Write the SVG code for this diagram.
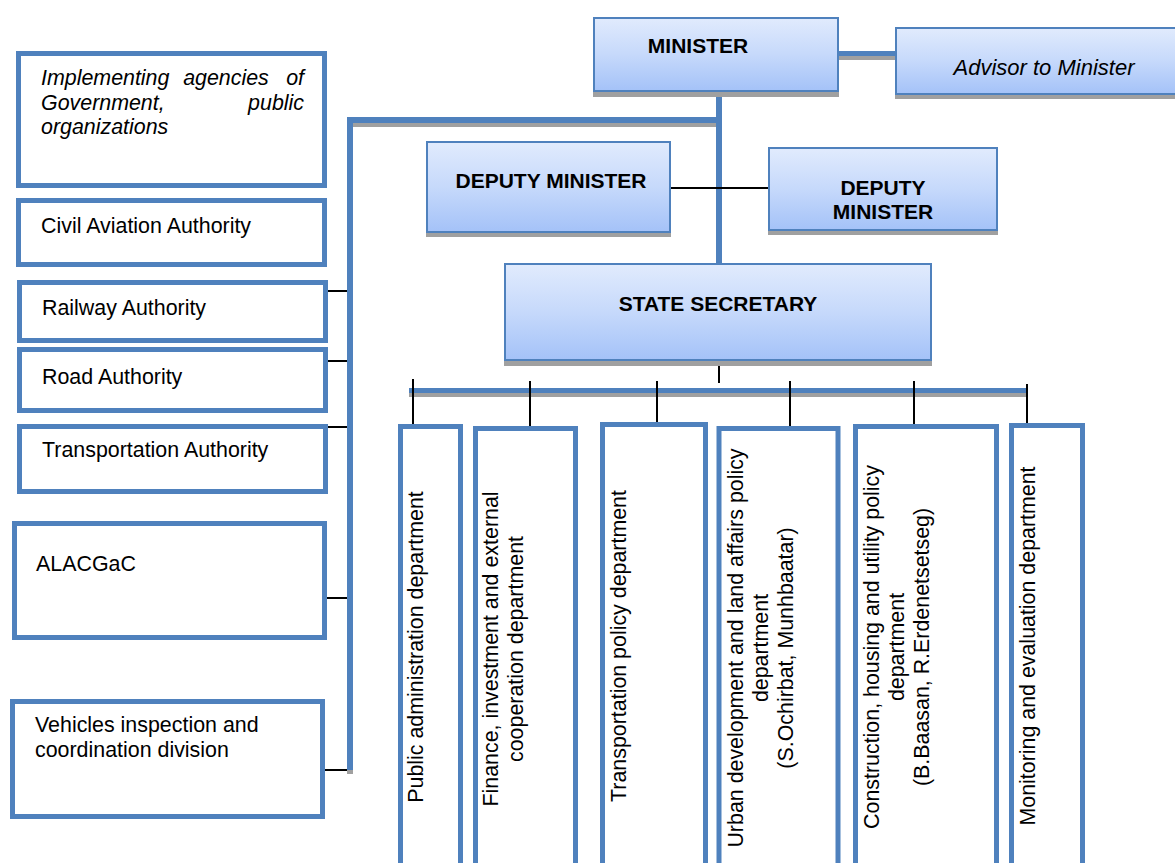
<svg xmlns="http://www.w3.org/2000/svg" width="1175" height="863" viewBox="0 0 1175 863">
  <defs>
    <linearGradient id="boxFill" x1="0" y1="0" x2="0" y2="1">
      <stop offset="0" stop-color="#e1ebfd"/>
      <stop offset="0.5" stop-color="#c6d9fb"/>
      <stop offset="1" stop-color="#a4c2f8"/>
    </linearGradient>
    <style>
      text { font-family: "Liberation Sans", Arial, sans-serif; font-size: 21.4px; fill: #000; }
      .bold { font-weight: bold; font-size: 21px; }
      .ital { font-style: italic; }
      .big { font-size: 22px; }
      .mid { text-anchor: middle; }
      .head { fill: url(#boxFill); stroke: #4f81bd; stroke-width: 2; }
      .shadow { fill: #a0a0a0; }
      .unit { fill: #fff; stroke: #4f81bd; stroke-width: 5; }
      .bar { fill: #4f81bd; }
      .thin { stroke: #000; stroke-width: 2; fill: none; }
    </style>
  </defs>
  <rect width="1175" height="863" fill="#fff"/>

  <!-- connectors -->
  <g id="connectors">
    <!-- thick bar shadows -->
    <rect class="shadow" x="839" y="56" width="56" height="4"/>
    <rect class="shadow" x="353" y="123" width="366" height="4"/>
    <rect class="shadow" x="347" y="770" width="6" height="4"/>
    <rect class="shadow" x="409" y="393" width="618" height="4"/>
    <!-- thick bars -->
    <rect class="bar" x="839" y="51" width="56" height="5"/>
    <rect class="bar" x="716" y="92" width="6" height="172"/>
    <rect class="bar" x="347" y="117" width="375" height="6"/>
    <rect class="bar" x="347" y="117" width="6" height="653"/>
    <rect class="bar" x="409" y="388" width="618" height="5"/>
    <!-- thin lines -->
    <line class="thin" x1="671" y1="188" x2="768" y2="188"/>
    <line class="thin" x1="719" y1="361" x2="719" y2="383" stroke-width="3"/>
    <line class="thin" x1="328" y1="291" x2="347" y2="291"/>
    <line class="thin" x1="328" y1="361" x2="347" y2="361"/>
    <line class="thin" x1="328" y1="427" x2="347" y2="427"/>
    <line class="thin" x1="327" y1="598" x2="347" y2="598"/>
    <line class="thin" x1="322" y1="770" x2="347" y2="770"/>
    <line class="thin" x1="413" y1="379" x2="413" y2="426"/>
    <line class="thin" x1="530" y1="381" x2="530" y2="428"/>
    <line class="thin" x1="657" y1="381" x2="657" y2="422"/>
    <line class="thin" x1="790" y1="381" x2="790" y2="428"/>
    <line class="thin" x1="914" y1="381" x2="914" y2="425" stroke-width="3"/>
    <line class="thin" x1="1027" y1="384" x2="1027" y2="424"/>
  </g>

  <!-- leadership -->
  <g id="minister">
    <rect class="shadow" x="593" y="21" width="246" height="76"/>
    <rect class="head" x="594" y="18" width="244" height="73"/>
    <text class="bold mid" x="698" y="53">MINISTER</text>
  </g>
  <g id="advisor">
    <rect class="shadow" x="895" y="31" width="290" height="68"/>
    <rect class="head" x="896" y="28" width="290" height="66"/>
    <text class="ital big mid" x="1044" y="75">Advisor to Minister</text>
  </g>
  <g id="deputy-minister-1">
    <rect class="shadow" x="426" y="146" width="245" height="91"/>
    <rect class="head" x="427" y="142" width="243" height="90"/>
    <text class="bold mid" x="551" y="188">DEPUTY MINISTER</text>
  </g>
  <g id="deputy-minister-2">
    <rect class="shadow" x="768" y="152" width="230" height="83"/>
    <rect class="head" x="769" y="148" width="228" height="82"/>
    <text class="bold mid" x="883" y="195">DEPUTY</text>
    <text class="bold mid" x="883" y="219">MINISTER</text>
  </g>
  <g id="state-secretary">
    <rect class="shadow" x="504" y="266" width="428" height="100"/>
    <rect class="head" x="505" y="264" width="426" height="96"/>
    <text class="bold mid" x="718" y="311">STATE SECRETARY</text>
  </g>

  <!-- implementing agencies -->
  <g id="implementing-agencies">
    <rect class="unit" x="18.5" y="53.5" width="306" height="132"/>
    <text class="ital" x="41" y="85">Implementing</text>
    <text class="ital mid" x="226" y="85">agencies</text>
    <text class="ital" x="304" y="85" text-anchor="end">of</text>
    <text class="ital" x="41" y="110">Government,</text>
    <text class="ital" x="304" y="110" text-anchor="end">public</text>
    <text class="ital" x="41" y="134">organizations</text>
  </g>
  <g id="civil-aviation">
    <rect class="unit" x="18.5" y="200.5" width="306" height="64"/>
    <text x="41" y="233">Civil Aviation Authority</text>
  </g>
  <g id="railway">
    <rect class="unit" x="19.5" y="282.5" width="306" height="58"/>
    <text x="42" y="315">Railway Authority</text>
  </g>
  <g id="road">
    <rect class="unit" x="19.5" y="349.5" width="306" height="61"/>
    <text x="42" y="384">Road Authority</text>
  </g>
  <g id="transportation-authority">
    <rect class="unit" x="19.5" y="426.5" width="306" height="65"/>
    <text x="42" y="457">Transportation Authority</text>
  </g>
  <g id="alacgac">
    <rect class="unit" x="14.5" y="523.5" width="310" height="114"/>
    <text x="36" y="571">ALACGaC</text>
  </g>
  <g id="vehicles-inspection">
    <rect class="unit" x="12.5" y="701.5" width="310" height="115"/>
    <text x="35" y="732">Vehicles inspection and</text>
    <text x="35" y="757">coordination division</text>
  </g>

  <!-- departments -->
  <g id="dept-public-administration">
    <rect class="unit" x="400.5" y="426.5" width="60" height="480"/>
    <text class="mid" transform="translate(423,647) rotate(-90)">Public administration department</text>
  </g>
  <g id="dept-finance">
    <rect class="unit" x="475.5" y="428.5" width="100" height="480"/>
    <g transform="translate(498,649) rotate(-90)">
      <text class="mid" x="0" y="0">Finance, investment and external</text>
      <text class="mid" x="0" y="25">cooperation department</text>
    </g>
  </g>
  <g id="dept-transportation-policy">
    <rect class="unit" x="602.5" y="424.5" width="103" height="480"/>
    <text class="mid" transform="translate(626,646) rotate(-90)">Transportation policy department</text>
  </g>
  <g id="dept-urban-development">
    <rect class="unit" x="719" y="428.5" width="119" height="480"/>
    <g transform="translate(743,648) rotate(-90)">
      <text class="mid" x="0" y="0">Urban development and land affairs policy</text>
      <text class="mid" x="0" y="25">department</text>
      <text class="mid" x="0" y="50">(S.Ochirbat, Munhbaatar)</text>
    </g>
  </g>
  <g id="dept-construction">
    <rect class="unit" x="855.5" y="426.5" width="141" height="480"/>
    <g transform="translate(879,647) rotate(-90)">
      <text class="mid" x="0" y="0">Construction, housing and utility policy</text>
      <text class="mid" x="0" y="25">department</text>
      <text class="mid" x="0" y="50">(B.Baasan, R.Erdenetsetseg)</text>
    </g>
  </g>
  <g id="dept-monitoring">
    <rect class="unit" x="1011.5" y="425.5" width="71" height="480"/>
    <text class="mid" transform="translate(1035,646) rotate(-90)">Monitoring and evaluation department</text>
  </g>
</svg>
